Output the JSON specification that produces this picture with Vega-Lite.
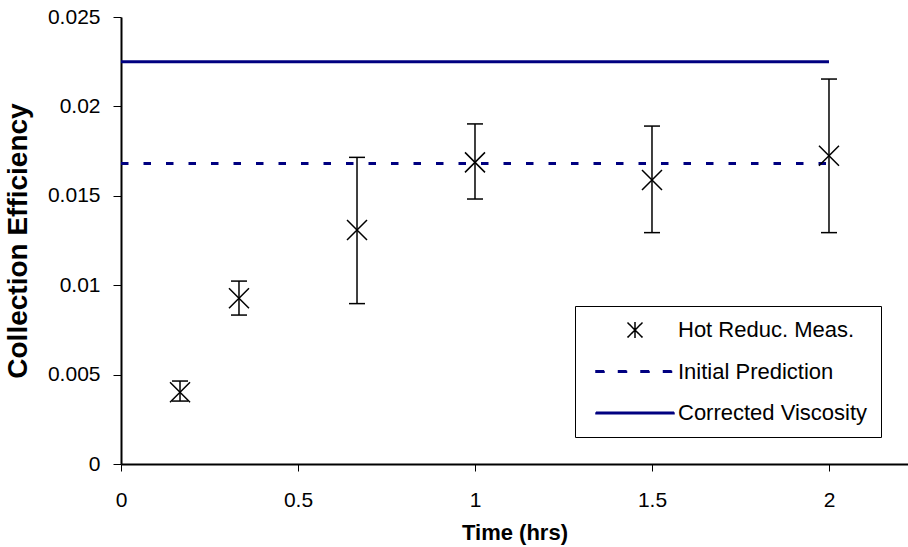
{
  "$schema": "https://vega.github.io/schema/vega-lite/v6.json",
  "autosize": {"type": "none"},
  "padding": {"left": 121, "top": 17, "right": 0, "bottom": 83},
  "width": 787,
  "height": 447,
  "background": "white",
  "config": {
    "view": {"stroke": null},
    "font": "Liberation Sans",
    "axisX": {"domainColor": "black", "domainWidth": 2, "tickColor": "black", "tickSize": 7, "tickWidth": 1, "labelFontSize": 21, "labelColor": "black", "labelPadding": 18, "labelFlush": false, "labelOverlap": false, "titleFontSize": 22, "titleFontWeight": "bold", "titleColor": "black", "titlePadding": 12, "grid": false, "labelFont": "Liberation Sans", "titleFont": "Liberation Sans"},
    "axisY": {"domainColor": "black", "domainWidth": 2, "tickColor": "black", "tickSize": 8, "tickWidth": 1, "labelFontSize": 21, "labelColor": "black", "labelPadding": 13, "labelFlush": false, "labelOverlap": false, "titleFontSize": 28, "titleFontWeight": "bold", "titleColor": "black", "titlePadding": 15, "grid": false, "labelFont": "Liberation Sans", "titleFont": "Liberation Sans"}
  },
  "datasets": {
    "meas": [
      {"t": 0.1667, "m": 0.00401, "lo": 0.00352, "hi": 0.00464},
      {"t": 0.3333, "m": 0.00927, "lo": 0.00833, "hi": 0.01023},
      {"t": 0.6667, "m": 0.01309, "lo": 0.00897, "hi": 0.01715},
      {"t": 1.0, "m": 0.01687, "lo": 0.01482, "hi": 0.01902},
      {"t": 1.5, "m": 0.01588, "lo": 0.01294, "hi": 0.0189},
      {"t": 2.0, "m": 0.01724, "lo": 0.01294, "hi": 0.02153}
    ],
    "initial": [
      {"series": "Initial Prediction", "t": 0, "v": 0.0168},
      {"series": "Initial Prediction", "t": 2, "v": 0.0168}
    ],
    "corrected": [
      {"series": "Corrected Viscosity", "t": 0, "v": 0.0225},
      {"series": "Corrected Viscosity", "t": 2, "v": 0.0225}
    ]
  },
  "layer": [
    {
      "data": {"name": "initial"},
      "mark": {"type": "line", "strokeWidth": 3, "strokeDash": [7.5, 15]},
      "encoding": {
        "x": {"field": "t", "type": "quantitative", "title": "Time (hrs)", "scale": {"domain": [0, 2.2232], "nice": false, "zero": false}, "axis": {"values": [0, 0.5, 1, 1.5, 2], "format": "~g"}},
        "y": {"field": "v", "type": "quantitative", "title": "Collection Efficiency", "scale": {"domain": [0, 0.025], "nice": false}, "axis": {"values": [0, 0.005, 0.01, 0.015, 0.02, 0.025], "format": "~g"}},
        "color": {
          "field": "series", "type": "nominal",
          "scale": {"domain": ["Hot Reduc. Meas.", "Initial Prediction", "Corrected Viscosity"], "range": ["black", "#000080", "#000080"]},
          "legend": {
            "orient": "none", "legendX": 454, "legendY": 289, "title": null, "padding": 13,
            "strokeColor": "black", "fillColor": "white",
            "labelFontSize": 22, "labelFont": "Liberation Sans", "labelColor": "black", "labelLimit": 400,
            "rowPadding": 19.5, "symbolOffset": 36, "labelOffset": 32, "symbolSize": 400, "symbolStrokeWidth": 1.5,
            "encode": {
              "symbols": {
                "update": {
                  "shape": {"signal": "datum.value === 'Hot Reduc. Meas.' ? 'M-0.75,-0.75L0.75,0.75M0.75,-0.75L-0.75,0.75M0,-0.8L0,0.8' : datum.value === 'Initial Prediction' ? 'M-3.9,-0.075L-3.1,-0.075L-3.1,0.075L-3.9,0.075ZM-1.65,-0.075L-0.85,-0.075L-0.85,0.075L-1.65,0.075ZM0.6,-0.075L1.4,-0.075L1.4,0.075L0.6,0.075ZM2.85,-0.075L3.65,-0.075L3.65,0.075L2.85,0.075Z' : 'M-3.9,-0.075L3.9,-0.075L3.9,0.075L-3.9,0.075Z'"},
                  "fill": {"scale": "color", "field": "value"},
                  "stroke": {"scale": "color", "field": "value"},
                  "strokeDash": {"value": [1, 0]},
                  "strokeWidth": {"value": 1.5},
                  "size": {"value": 400},
                  "opacity": {"value": 1}
                }
              }
            }
          }
        }
      }
    },
    {
      "data": {"name": "corrected"},
      "mark": {"type": "line", "strokeWidth": 3},
      "encoding": {
        "x": {"field": "t", "type": "quantitative", "title": "Time (hrs)"},
        "y": {"field": "v", "type": "quantitative", "title": "Collection Efficiency"},
        "color": {"field": "series", "type": "nominal"}
      }
    },
    {
      "data": {"name": "meas"},
      "mark": {"type": "rule", "color": "black", "strokeWidth": 1.5},
      "encoding": {
        "x": {"field": "t", "type": "quantitative", "title": "Time (hrs)"},
        "y": {"field": "lo", "type": "quantitative", "title": "Collection Efficiency"},
        "y2": {"field": "hi"}
      }
    },
    {
      "data": {"name": "meas"},
      "mark": {"type": "tick", "orient": "horizontal", "size": 16, "thickness": 1.5, "color": "black", "opacity": 1},
      "encoding": {
        "x": {"field": "t", "type": "quantitative", "title": "Time (hrs)"},
        "y": {"field": "lo", "type": "quantitative", "title": "Collection Efficiency"}
      }
    },
    {
      "data": {"name": "meas"},
      "mark": {"type": "tick", "orient": "horizontal", "size": 16, "thickness": 1.5, "color": "black", "opacity": 1},
      "encoding": {
        "x": {"field": "t", "type": "quantitative", "title": "Time (hrs)"},
        "y": {"field": "hi", "type": "quantitative", "title": "Collection Efficiency"}
      }
    },
    {
      "data": {"name": "meas"},
      "mark": {"type": "point", "shape": "M-1,-1L1,1M1,-1L-1,1", "size": 400, "filled": false, "stroke": "black", "strokeWidth": 1.5, "opacity": 1},
      "encoding": {
        "x": {"field": "t", "type": "quantitative", "title": "Time (hrs)"},
        "y": {"field": "m", "type": "quantitative", "title": "Collection Efficiency"}
      }
    },
    {
      "mark": {"type": "rule", "color": "black", "strokeWidth": 1.5},
      "encoding": {
        "y": {"datum": 0.025}
      }
    }
  ]
}
